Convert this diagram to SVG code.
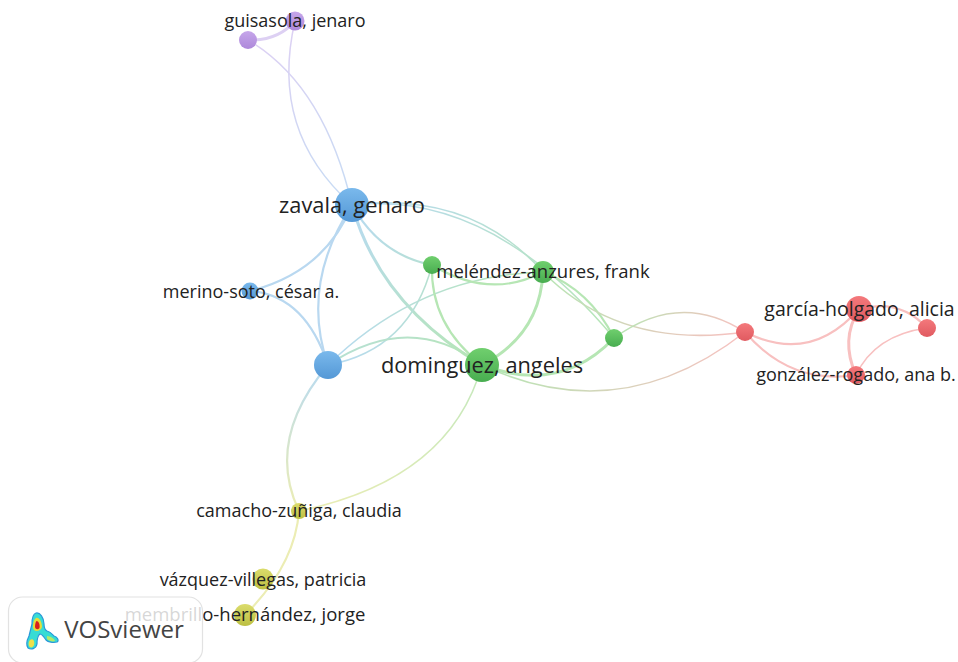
<svg xmlns="http://www.w3.org/2000/svg" width="958" height="662" viewBox="0 0 958 662">
<defs>
<linearGradient id="fb" x1="0" y1="0" x2="0" y2="1"><stop offset="0" stop-color="#7ab9ec"/><stop offset="1" stop-color="#5498d6"/></linearGradient>
<linearGradient id="fg" x1="0" y1="0" x2="0" y2="1"><stop offset="0" stop-color="#70cf6e"/><stop offset="1" stop-color="#48ad50"/></linearGradient>
<linearGradient id="fr" x1="0" y1="0" x2="0" y2="1"><stop offset="0" stop-color="#f4797c"/><stop offset="1" stop-color="#e05a60"/></linearGradient>
<linearGradient id="fp" x1="0" y1="0" x2="0" y2="1"><stop offset="0" stop-color="#c6a6ea"/><stop offset="1" stop-color="#ad88da"/></linearGradient>
<linearGradient id="fy" x1="0" y1="0" x2="0" y2="1"><stop offset="0" stop-color="#dbdc6c"/><stop offset="1" stop-color="#bcbf42"/></linearGradient>
<linearGradient id="e1" gradientUnits="userSpaceOnUse" x1="482" y1="365" x2="745" y2="332"><stop offset="0" stop-color="#b6e6b4"/><stop offset="1" stop-color="#f8c0c0"/></linearGradient>
<linearGradient id="e2" gradientUnits="userSpaceOnUse" x1="543" y1="272" x2="745" y2="332"><stop offset="0" stop-color="#b6e6b4"/><stop offset="1" stop-color="#f8c0c0"/></linearGradient>
<linearGradient id="e3" gradientUnits="userSpaceOnUse" x1="614" y1="338" x2="745" y2="332"><stop offset="0" stop-color="#b6e6b4"/><stop offset="1" stop-color="#f8c0c0"/></linearGradient>
<linearGradient id="e4" gradientUnits="userSpaceOnUse" x1="352" y1="205" x2="482" y2="365"><stop offset="0" stop-color="#b7daf2"/><stop offset="1" stop-color="#b6e6b4"/></linearGradient>
<linearGradient id="e5" gradientUnits="userSpaceOnUse" x1="352" y1="205" x2="614" y2="338"><stop offset="0" stop-color="#b7daf2"/><stop offset="1" stop-color="#b6e6b4"/></linearGradient>
<linearGradient id="e6" gradientUnits="userSpaceOnUse" x1="328" y1="365" x2="543" y2="272"><stop offset="0" stop-color="#b7daf2"/><stop offset="1" stop-color="#b6e6b4"/></linearGradient>
<linearGradient id="e7" gradientUnits="userSpaceOnUse" x1="328" y1="365" x2="299" y2="511"><stop offset="0" stop-color="#b7daf2"/><stop offset="1" stop-color="#ecedb4"/></linearGradient>
<linearGradient id="e8" gradientUnits="userSpaceOnUse" x1="482" y1="365" x2="299" y2="511"><stop offset="0" stop-color="#c4e8bc"/><stop offset="1" stop-color="#ecedb4"/></linearGradient>
<linearGradient id="e9" gradientUnits="userSpaceOnUse" x1="295" y1="21" x2="352" y2="205"><stop offset="0" stop-color="#ddd0f3"/><stop offset="1" stop-color="#c6dcf4"/></linearGradient>
</defs>
<style>
text{font-family:"Open Sans","DejaVu Sans",sans-serif;font-size:18px;fill:#222;text-anchor:middle}
.big{font-size:21.8px}
.mid{font-size:18.5px}
#edges path{fill:none;stroke-width:1.5;stroke-linecap:round}
.p{stroke:#ddd0f3}.b{stroke:#b9d8f0}.g{stroke:#b6e6b4}.r{stroke:#f8c0c0}.y{stroke:#ecedb4}
.t{stroke-width:3!important}.m{stroke-width:2.2!important}
.nb{fill:url(#fb)}.ng{fill:url(#fg)}.nr{fill:url(#fr)}.np{fill:url(#fp)}.ny{fill:url(#fy)}
</style>
<g id="edges">
<path class="p t" d="M248 40Q278 41 295 21"/>
<path stroke="url(#e9)" d="M248 40Q324 85 352 205"/>
<path stroke="url(#e9)" d="M295 21C280 85 290 150 352 205"/>
<path class="b m" d="M352 205Q325 272 250 291"/>
<path class="b m" d="M352 205Q300 285 328 365"/>
<path class="b m" d="M250 291Q305 295 328 365"/>
<path class="t" stroke="url(#e4)" d="M352 205Q380 305 482 365"/>
<path class="m" stroke="url(#e4)" d="M352 205Q380 255 432 265"/>
<path stroke="url(#e5)" d="M352 205Q470 190 543 272"/>
<path stroke="url(#e5)" d="M352 205Q490 190 614 338"/>
<path stroke="url(#e6)" d="M328 365Q410 350 432 265"/>
<path stroke="url(#e6)" d="M328 365Q420 275 543 272"/>
<path class="m" stroke="url(#e4)" d="M328 365Q410 310 482 365"/>
<path class="g m" d="M432 265Q490 300 543 272"/>
<path class="g m" d="M432 265Q430 325 482 365"/>
<path class="g t" d="M543 272Q540 335 482 365"/>
<path class="g m" d="M543 272Q590 290 614 338"/>
<path class="g t" d="M482 365Q560 395 614 338"/>
<path stroke="url(#e1)" d="M482 365Q620 430 745 332"/>
<path stroke="url(#e2)" d="M543 272Q620 350 745 332"/>
<path stroke="url(#e3)" d="M614 338Q680 290 745 332"/>
<path class="r m" d="M745 332Q810 365 859 309"/>
<path class="r m" d="M745 332Q790 385 856 375"/>
<path class="r t" d="M859 309Q840 340 856 375"/>
<path class="r m" d="M859 309Q900 298 927 328"/>
<path class="r" d="M927 328Q875 335 856 375"/>
<path stroke="url(#e8)" d="M482 365Q450 480 299 511"/>
<path class="m" stroke="url(#e7)" d="M328 365Q265 440 299 511"/>
<path class="y m" d="M299 511Q295 565 245 615"/>
</g>
<g id="n-guisasola"><circle class="np" cx="295" cy="21" r="9.5"/><text x="295" y="27">guisasola, jenaro</text></g>
<g id="n-purple2"><circle class="np" cx="248" cy="40" r="9"/></g>
<g id="n-zavala"><circle class="nb" cx="352" cy="205" r="17"/><text class="big" x="352" y="212.500">zavala, genaro</text></g>
<g id="n-merino"><circle class="nb" cx="250" cy="291" r="8.500"/><text x="251" y="297.500">merino-soto, césar a.</text></g>
<g id="n-blue2"><circle class="nb" cx="328" cy="365" r="14"/></g>
<g id="n-green-small"><circle class="ng" cx="432" cy="265" r="9"/></g>
<g id="n-melendez"><circle class="ng" cx="543" cy="272" r="11"/><text class="mid" x="543" y="277.500">meléndez-anzures, frank</text></g>
<g id="n-dominguez"><circle class="ng" cx="482" cy="365" r="17"/><text class="big" x="482" y="372.500">dominguez, angeles</text></g>
<g id="n-green3"><circle class="ng" cx="614" cy="338" r="9"/></g>
<g id="n-red1"><circle class="nr" cx="745" cy="332" r="9"/></g>
<g id="n-garcia"><circle class="nr" cx="859" cy="309" r="13"/><text x="859.500" y="315.500" style="font-size:19.5px">garcía-holgado, alicia</text></g>
<g id="n-red2"><circle class="nr" cx="927" cy="328" r="9"/></g>
<g id="n-gonzalez"><circle class="nr" cx="856" cy="375" r="9"/><text x="856" y="381">gonzález-rogado, ana b.</text></g>
<g id="n-camacho"><circle class="ny" cx="299" cy="511" r="8"/><text x="299" y="517">camacho-zuñiga, claudia</text></g>
<g id="n-vazquez"><circle class="ny" cx="263" cy="579" r="10.500"/><text x="263" y="585.500">vázquez-villegas, patricia</text></g>
<g id="n-membrillo"><circle class="ny" cx="245" cy="615" r="11"/><text class="mid" x="245" y="621">membrillo-hernández, jorge</text></g>
<g id="logo">
<rect x="8.500" y="597" width="194" height="66" rx="14" fill="#fff" fill-opacity=".82" stroke="#e2e2e2" stroke-width="1.200"/>
<g stroke-linejoin="round">
<path d="M36 613C40 612 44 618 44 624C44 628 45 630 47 631C51 632 52 634 54 636C58 637 59 641 57 642C53 643 48 642 46 640C44 637 42 634 40 634C37 636 37 640 37 644C36 649 31 650 28 648C26 645 27 640 29 636C30 632 31 628 32 624C32 619 33 614 36 613Z" fill="#37dcd4" stroke="#2a98d8" stroke-width="1.200"/>
<path d="M36 618C39 617 42 622 42 627C41 631 36 632 34 630C32 627 33 620 36 618Z" fill="#e6dc3a"/>
<path d="M30 640C33 638 35 641 34 645C33 648 30 648 29 646C28 644 29 641 30 640Z" fill="#eee04a"/>
<path d="M47 636C50 636 55 639 55 641C53 642 49 641 47 639Z" fill="#b4e86a"/>
<path d="M36.500 621C39 621 40 625 39.500 628C38 630 35.500 629.500 35 627C35 624.500 35.500 622 36.500 621Z" fill="#d81e1e"/>
</g>
<text x="124" y="638" style="font-size:24px;fill:#444">VOSviewer</text>
</g>
</svg>
